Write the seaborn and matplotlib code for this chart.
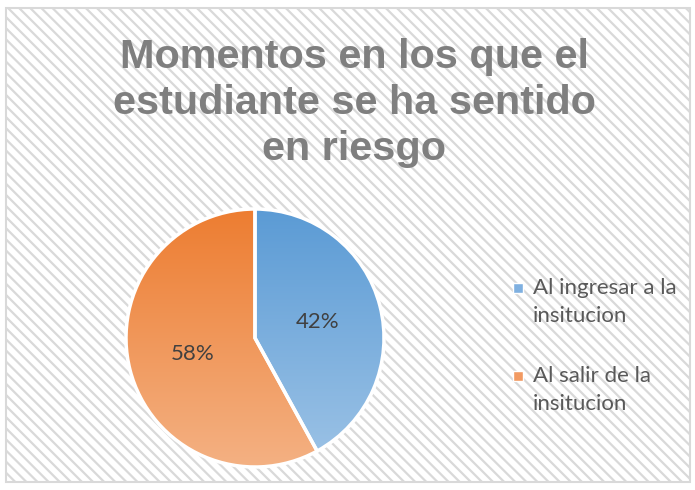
import numpy as np
import seaborn as sns
import matplotlib.pyplot as plt
from matplotlib.colors import LinearSegmentedColormap
from matplotlib.patches import Rectangle

categorias = ["Al ingresar a la\ninsitucion", "Al salir de la\ninsitucion"]
porcentajes = [42, 58]
titulo = "Momentos en los que el\nestudiante se ha sentido\nen riesgo"

# colores tipo Excel (arriba -> abajo)
gradientes = [("#5B9BD5", "#9DC3E6"), ("#ED7D31", "#F4B183")]
marcadores = ["#7FB0E0", "#F29A62"]

sns.set_theme(style="white")
plt.rcParams['font.family'] = ['Lato', 'DejaVu Sans']
plt.rcParams['hatch.linewidth'] = 1.6
plt.rcParams['hatch.color'] = '#ececec'

fig = plt.figure(figsize=(6.95, 4.9), dpi=100)
fig.patch.set_facecolor('white')

# fondo rayado con borde
fondo = Rectangle((6 / 695, 8 / 490), 684 / 695, 474 / 490, transform=fig.transFigure,
                  facecolor='white', edgecolor='#d9d9d9', linewidth=1.5, hatch='\\\\\\',
                  zorder=-5)
fig.patches.append(fondo)

fig.text(354 / 695, 1 - 103 / 490, titulo, ha='center', va='center', fontsize=29.8,
         fontweight='bold', color='#7f7f7f', family=['Liberation Sans', 'DejaVu Sans'],
         linespacing=1.28)

r = 129
ax = fig.add_axes([(255 - r) / 695, (490 - 338 - r) / 490, 2 * r / 695, 2 * r / 490])
ax.patch.set_alpha(0)
wedges, textos = ax.pie(porcentajes, startangle=90, counterclock=False, radius=1,
                        wedgeprops=dict(edgecolor='white', linewidth=2.5, facecolor='none'))

grad = np.linspace(0, 1, 256).reshape(-1, 1)
for w, (c1, c2) in zip(wedges, gradientes):
    cmap = LinearSegmentedColormap.from_list('g', [c1, c2])
    im = ax.imshow(grad, cmap=cmap, extent=[-1, 1, -1, 1], origin='upper', aspect='auto', zorder=0)
    im.set_clip_path(w)
    w.set_zorder(2)

# etiquetas de porcentaje
for w, p in zip(wedges, porcentajes):
    ang = np.deg2rad((w.theta1 + w.theta2) / 2)
    ax.text(0.5 * np.cos(ang), 0.5 * np.sin(ang), f"{p}%", ha='center', va='center',
            fontsize=16, color='#404040', zorder=3)

ax.set_xlim(-1.0, 1.0)
ax.set_ylim(-1.0, 1.0)
ax.set_aspect('equal')
ax.axis('off')

# leyenda (marcador alineado con la primera linea)
ley_y = [288, 376]
for lab, col, y in zip(categorias, marcadores, ley_y):
    fig.patches.append(Rectangle(((518 - 5) / 695, 1 - (y + 5) / 490), 10 / 695, 10 / 490,
                                 transform=fig.transFigure, facecolor=col,
                                 edgecolor='white', linewidth=1))
    fig.text(533 / 695, 1 - (y - 10) / 490, lab, ha='left', va='top', fontsize=16,
             color='#595959', linespacing=1.5)

fig.savefig("out.png", dpi=100)
